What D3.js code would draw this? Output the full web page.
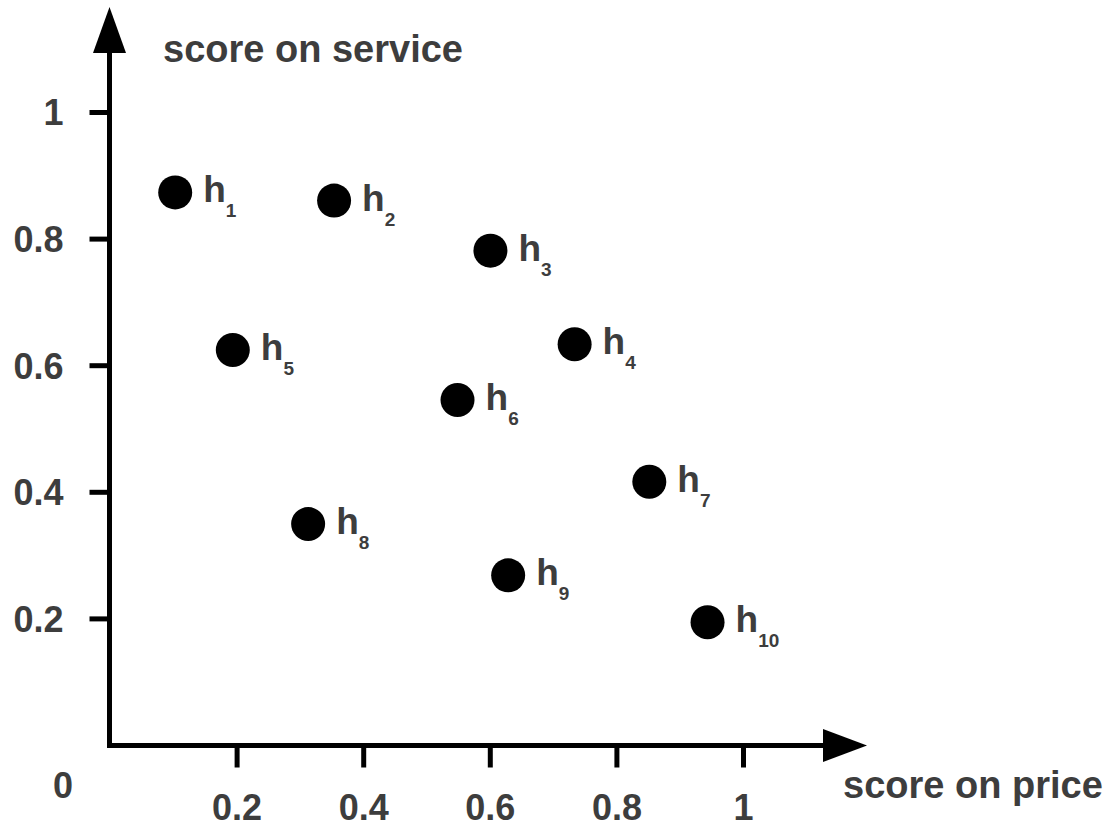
<!DOCTYPE html>
<html>
<head>
<meta charset="utf-8">
<script src="https://cdn.jsdelivr.net/npm/d3@7"></script>
<style>
  html, body { margin: 0; padding: 0; background: #fff; }
  svg { display: block; }
  text { font-family: "Liberation Sans", Arial, sans-serif; font-weight: bold; fill: #3d3d3d; }
</style>
</head>
<body>
<svg id="chart" width="1113" height="829"></svg>
<script>
// ---- data ----
const hotels = ["h1","h2","h3","h4","h5","h6","h7","h8","h9","h10"];
const subscripts = ["1","2","3","4","5","6","7","8","9","10"];
const priceScore = [0.103, 0.354, 0.601, 0.734, 0.194, 0.549, 0.852, 0.313, 0.629, 0.944];
const serviceScore = [0.873, 0.860, 0.781, 0.633, 0.624, 0.545, 0.416, 0.349, 0.268, 0.194];
const xTicks = [0.2, 0.4, 0.6, 0.8, 1];
const yTicks = [0.2, 0.4, 0.6, 0.8, 1];
const xTitle = "score on price";
const yTitle = "score on service";
const originLabel = "0";

// ---- layout ----
const svg = d3.select("#chart");
const x = d3.scaleLinear().domain([0, 1]).range([110, 743]);
const y = d3.scaleLinear().domain([0, 1]).range([745, 112]);
const axisX0 = 109.5, axisY0 = 745.5;
const fmt = d => (d === 1 ? "1" : d3.format(".1f")(d));

// y axis
const gy = svg.append("g").attr("transform", `translate(${axisX0},0)`)
  .call(d3.axisLeft(y).tickValues(yTicks).tickSize(20).tickPadding(26).tickFormat(fmt));
gy.select(".domain").remove();
gy.selectAll(".tick line").attr("stroke", "#000").attr("stroke-width", 5);
gy.selectAll(".tick text").attr("font-size", 36).attr("fill", "#3d3d3d")
  .attr("font-family", "Liberation Sans, Arial, sans-serif").attr("font-weight", "bold").attr("dy", "0.36em");

// x axis
const gx = svg.append("g").attr("transform", `translate(0,${axisY0})`)
  .call(d3.axisBottom(x).tickValues(xTicks).tickSize(22).tickPadding(27).tickFormat(fmt));
gx.select(".domain").remove();
gx.selectAll(".tick line").attr("stroke", "#000").attr("stroke-width", 5);
gx.selectAll(".tick text").attr("font-size", 36).attr("fill", "#3d3d3d")
  .attr("font-family", "Liberation Sans, Arial, sans-serif").attr("font-weight", "bold");

// axis lines with arrows
svg.append("path")
  .attr("d", `M${axisX0},${axisY0 + 2.5} L${axisX0},48`)
  .attr("stroke", "#000").attr("stroke-width", 5).attr("fill", "none");
svg.append("path")
  .attr("d", `M${axisX0 - 2.5},${axisY0} L828,${axisY0}`)
  .attr("stroke", "#000").attr("stroke-width", 5).attr("fill", "none");
// arrowheads
svg.append("path")
  .attr("d", `M${axisX0},7 L${axisX0 + 16.5},53 L${axisX0 - 16.5},53 Z`)
  .attr("fill", "#000");
svg.append("path")
  .attr("d", `M867,${axisY0} L823,${axisY0 - 16.5} L823,${axisY0 + 16.5} Z`)
  .attr("fill", "#000");

// titles
svg.append("text").attr("x", 163).attr("y", 62).attr("font-size", 38).text(yTitle);
svg.append("text").attr("x", 843).attr("y", 798).attr("font-size", 38).text(xTitle);
svg.append("text").attr("x", 63).attr("y", 798).attr("text-anchor", "middle").attr("font-size", 36).text(originLabel);

// points
const data = hotels.map((h, i) => ({ name: h, sub: subscripts[i], px: priceScore[i], sv: serviceScore[i] }));
const g = svg.append("g");
g.selectAll("circle").data(data).join("circle")
  .attr("cx", d => x(d.px)).attr("cy", d => y(d.sv)).attr("r", 17).attr("fill", "#000");

const labels = g.selectAll("text.lbl").data(data).join("text")
  .attr("class", "lbl")
  .attr("x", d => x(d.px) + 28).attr("y", d => y(d.sv) + 10)
  .attr("font-size", 37);
labels.append("tspan").text("h");
labels.append("tspan").attr("font-size", 19).attr("dy", 15).text(d => d.sub);
</script>
</body>
</html>
